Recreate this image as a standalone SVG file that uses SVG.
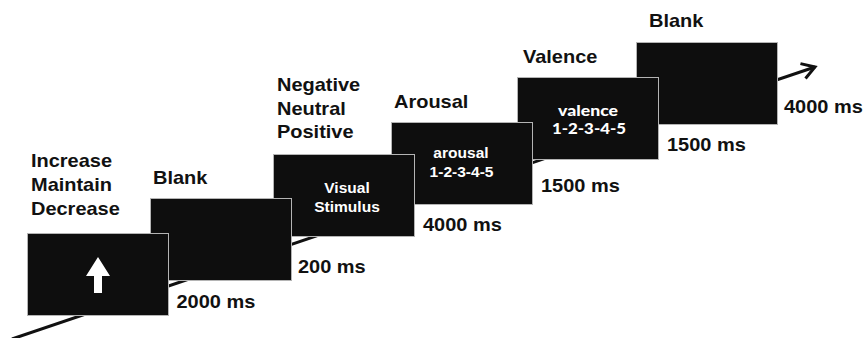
<svg xmlns="http://www.w3.org/2000/svg" width="864" height="338" viewBox="0 0 864 338">
<style>
.scr{fill:#0e0e0e;stroke:#b4b4b4;stroke-width:1}
.lbl{font-family:"Liberation Sans",Arial,sans-serif;font-weight:bold;font-size:18px;fill:#111}
.in{font-family:"Liberation Sans",Arial,sans-serif;font-weight:bold;font-size:14px;fill:#fff;text-anchor:middle}
.gs{font-family:Lato,"Open Sans",sans-serif;font-weight:900;font-size:14.5px;fill:#fff;text-anchor:middle}
.tl{fill:none;stroke:#111;stroke-width:3}
</style>
<defs>
<marker id="arr" markerUnits="userSpaceOnUse" markerWidth="20" markerHeight="20" refX="0" refY="0" orient="auto" overflow="visible">
<path d="M-12.7,-7.9 L0,0 L-12.7,7.9" fill="none" stroke="#111" stroke-width="3"/>
</marker>
</defs>
<rect width="864" height="338" fill="#fff"/>
<g id="connectors">
<line class="tl" x1="12" y1="339" x2="815" y2="67" marker-end="url(#arr)"/>
</g>
<g id="screen6">
<rect class="scr" x="636.5" y="42.5" width="141" height="82"/>
<text class="lbl" transform="translate(649,27) scale(1.11,1)">Blank</text>
<text class="lbl" transform="translate(784,113) scale(1.11,1)">4000 ms</text>
</g>
<g id="screen5">
<rect class="scr" x="517.5" y="77.5" width="141" height="82"/>
<text class="lbl" transform="translate(523,63) scale(1.11,1)">Valence</text>
<text class="gs" x="588" y="115.5" textLength="60" lengthAdjust="spacingAndGlyphs">valence</text>
<text class="gs" x="589" y="134" textLength="74" lengthAdjust="spacingAndGlyphs">1-2-3-4-5</text>
<text class="lbl" transform="translate(667,151) scale(1.11,1)">1500 ms</text>
</g>
<g id="screen4">
<rect class="scr" x="391.5" y="122.5" width="141" height="82"/>
<text class="lbl" transform="translate(394,108) scale(1.11,1)">Arousal</text>
<text class="in" transform="translate(461,158) scale(1.11,1)">arousal</text>
<text class="in" transform="translate(461.5,177) scale(1.11,1)">1-2-3-4-5</text>
<text class="lbl" transform="translate(541,192) scale(1.11,1)">1500 ms</text>
</g>
<g id="screen3">
<rect class="scr" x="273.5" y="154.5" width="141" height="82"/>
<text class="lbl" transform="translate(277,91) scale(1.11,1)">Negative</text>
<text class="lbl" transform="translate(277,114.5) scale(1.11,1)">Neutral</text>
<text class="lbl" transform="translate(277,138) scale(1.11,1)">Positive</text>
<text class="in" transform="translate(347,193) scale(1.11,1)">Visual</text>
<text class="in" transform="translate(347,212) scale(1.11,1)">Stimulus</text>
<text class="lbl" transform="translate(423,231) scale(1.11,1)">4000 ms</text>
</g>
<g id="screen2">
<rect class="scr" x="150.5" y="198.5" width="141" height="82"/>
<text class="lbl" transform="translate(153,184) scale(1.11,1)">Blank</text>
<text class="lbl" transform="translate(298,273) scale(1.11,1)">200 ms</text>
</g>
<g id="screen1">
<rect class="scr" x="27.5" y="233.5" width="141" height="82"/>
<polygon points="98,257 110,276 102,276 102,293 94,293 94,276 86,276" fill="#fff"/>
<text class="lbl" transform="translate(31,166.5) scale(1.11,1)">Increase</text>
<text class="lbl" transform="translate(31,190.5) scale(1.11,1)">Maintain</text>
<text class="lbl" transform="translate(31,214.5) scale(1.11,1)">Decrease</text>
<text class="lbl" transform="translate(176.5,308) scale(1.11,1)">2000 ms</text>
</g>
</svg>
